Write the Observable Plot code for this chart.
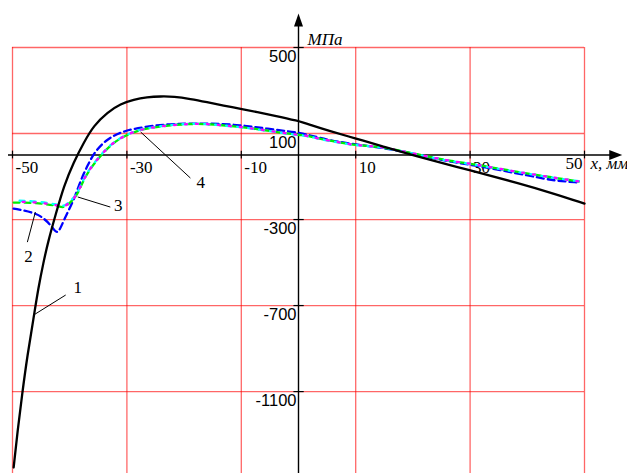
<!DOCTYPE html>
<html><head><meta charset="utf-8">
<script src="https://cdn.jsdelivr.net/npm/d3@7"></script>
<script src="https://cdn.jsdelivr.net/npm/@observablehq/plot@0.6"></script>
<style>body{margin:0;background:#fff}</style>
</head><body><div id="chart"></div>
<script>
// grid / ticks
const gridX = [-50, -30, -10, 10, 30, 50];
const gridY = [500, 100, -300, -700, -1100];
const xTickLabels = ["-50", "-30", "-10", "10", "30", "50"];
const yTickLabels = ["500", "100", "-300", "-700", "-1100"];

// curve 1 (black)
const blackX = [-49.8,-49.1,-48.3,-47.4,-46.3,-45.5,-44.6,-43.7,-42.5,-41.0,-39.3,-37.5,-35.8,-33.4,-31.1,-28.8,-26.5,-24.1,-21.8,-18.9,-16.0,-13.1,-10.1,-7.2,-4.3,-0.2,2.1,5.1,10.0,14.3,20.1,30.1,38.8,44.6,50.0];
const blackY = [-1453,-1281,-1109,-932,-756,-621,-500,-395,-281,-142,-33,60,137,199,238,258,269,273,272,261,246,230,215,199,184,160,140,114,77,44,-2,-72,-133,-179,-226];

// curve 2 (blue dashed)
const blueX = [-49.8,-46.3,-44.6,-43.0,-42.1,-41.1,-39.3,-38.1,-36.9,-35.5,-33.4,-31.1,-28.8,-25.3,-21.8,-16.0,-10.1,-5.5,-0.2,2.1,5.6,9.1,14.3,20.1,26.0,30.1,41.1,44.6,49.0];
const blueY = [-249,-267,-291,-335,-375,-305,-212,-119,-49,21,75,106,122,137,145,148,140,122,106,91,67,53,35,7,-30,-44,-100,-119,-128];

// curve 3 (green dashed)
const greenX = [-49.8,-46.3,-42.1,-41.1,-39.9,-38.7,-37.5,-36.4,-34.6,-32.3,-30.0,-27.6,-24.1,-19.5,-16.0,-11.3,-6.6,-2.0,1.5,3.3,7.3,10.3,14.3,20.1,26.0,30.1,38.8,44.6,49.0];
const greenY = [-221,-221,-235,-248,-221,-188,-111,-64,-2,60,94,119,134,145,145,134,119,99,91,77,58,44,40,7,-26,-40,-81,-105,-123];

// curve 4 (cyan dashed)
const cyanX = [-49.8,-46.3,-42.1,-41.1,-39.9,-38.7,-37.5,-36.4,-34.6,-32.3,-30.0,-27.6,-24.1,-19.5,-16.0,-11.3,-6.6,-2.0,1.5,3.3,7.3,10.3,14.3,20.1,26.0,30.1,38.8,44.6,49.0];
const cyanY = [-212,-214,-229,-242,-214,-183,-106,-60,1,62,96,121,135,146,145,133,118,98,90,76,57,43,39,6,-27,-41,-82,-106,-122];

// magenta dotted
const magX = [-49.8,-46.3,-42.1,-41.1,-39.9,-38.7,-37.5,-36.4,-34.6,-32.3,-30.0,-27.6,-24.1,-19.5,-16.0,-11.3,-6.6,-2.0,1.5,3.3,7.3,10.3,14.3,20.1,26.0,30.1,38.8,44.6,49.0];
const magY = [-217,-218,-232,-245,-218,-186,-109,-62,0,61,95,120,134,145,145,134,119,99,91,77,58,44,40,7,-26,-40,-81,-105,-123];

// curve labels and leaders
const curveLabels = ["1", "2", "3", "4"];
const labelX = [-38.6, -47.2, -31.5, -17.1];
const labelY = [-614, -474, -233, -130];
const leaderX1 = [-40.7, -47.4, -32.9, -18.9];
const leaderY1 = [-651, -405, -242, -107];
const leaderX2 = [-46.3, -46.0, -38.6, -27.6];
const leaderY2 = [-744, -265, -195, 107];

const pts = (xs, ys) => xs.map((x, i) => ({x, y: ys[i]}));
const grid = gridX.map((x, i) => ({x, label: xTickLabels[i]}));
const gridH = gridY.map((y, i) => ({y, label: yTickLabels[i]}));
const labels = curveLabels.map((t, i) => ({t, x: labelX[i], y: labelY[i], x1: leaderX1[i], y1: leaderY1[i], x2: leaderX2[i], y2: leaderY2[i]}));

const arrowRight = {draw(c) { c.moveTo(0, 0); c.lineTo(-13, -5); c.lineTo(-13, 5); c.closePath(); }};
const arrowUp = {draw(c) { c.moveTo(0, 0); c.lineTo(-4.5, 13); c.lineTo(4.5, 13); c.closePath(); }};

const serif = "'Liberation Serif', 'DejaVu Serif', serif";
const sans = "'Liberation Sans', Arial, sans-serif";
const curve = "basis";

const chart = Plot.plot({
  width: 627,
  height: 473,
  marginLeft: 12,
  marginRight: 43,
  marginTop: 47,
  marginBottom: 0,
  x: {domain: [-50, 50], axis: null},
  y: {domain: [-1481, 500], axis: null},
  style: {background: "white", overflow: "visible"},
  marks: [
    // grid
    Plot.ruleX(grid, {x: "x", y1: -1481, y2: 500, stroke: "red", strokeOpacity: 0.6, strokeWidth: 1.3}),
    Plot.ruleY(gridH, {y: "y", x1: -50, x2: 50, stroke: "red", strokeOpacity: 0.6, strokeWidth: 1.3}),
    // axes
    Plot.ruleY([0], {x1: -50.7, x2: 55, stroke: "black", strokeWidth: 1.4}),
    Plot.ruleX([0], {y1: -1481, y2: 640, stroke: "black", strokeWidth: 1.4}),
    Plot.dot([{x: 56.6, y: 0}], {x: "x", y: "y", symbol: arrowRight, fill: "black", stroke: "none"}),
    Plot.dot([{x: 0, y: 658}], {x: "x", y: "y", symbol: arrowUp, fill: "black", stroke: "none"}),
    Plot.ruleX(grid, {x: "x", y1: -18, y2: 18, stroke: "black", strokeWidth: 1.2}),
    Plot.ruleY(gridH, {y: "y", x1: -0.8, x2: 1.0, stroke: "black", strokeWidth: 1.2}),
    // tick labels
    Plot.text(grid.slice(0, 5), {x: "x", y: 0, text: "label", textAnchor: "start", dx: 3, dy: 13, fontSize: 17, fontFamily: serif, fill: "black"}),
    Plot.text(grid.slice(5), {x: "x", y: 0, text: "label", textAnchor: "end", dx: -2, dy: 9, fontSize: 17, fontFamily: serif, fill: "black"}),
    Plot.text(gridH, {x: 0, y: "y", text: "label", textAnchor: "end", dx: -2, dy: 9.5, fontSize: 16.5, fontFamily: sans, fill: "black"}),
    Plot.text([{x: 50, y: 0, t: "x, мм"}], {x: "x", y: "y", text: "t", textAnchor: "start", dx: 6, dy: 9, fontSize: 17, fontStyle: "italic", fontFamily: serif, fill: "black"}),
    Plot.text([{x: 0, y: 500, t: "МПа"}], {x: "x", y: "y", text: "t", textAnchor: "start", dx: 9, dy: -8, fontSize: 17, fontStyle: "italic", fontFamily: serif, fill: "black"}),
    // curves
    Plot.line(pts(blueX, blueY), {x: "x", y: "y", stroke: "#0000ff", strokeWidth: 2.3, strokeDasharray: "7,4", curve}),
    Plot.line(pts(greenX, greenY), {x: "x", y: "y", stroke: "#00ee00", strokeWidth: 2.3, strokeDasharray: "6,5", curve}),
    Plot.line(pts(cyanX, cyanY), {x: "x", y: "y", stroke: "#00ffff", strokeWidth: 2.3, strokeDasharray: "5,6", strokeDashoffset: 5, curve}),
    Plot.line(pts(magX, magY), {x: "x", y: "y", stroke: "#ff00ff", strokeWidth: 2.3, strokeDasharray: "2,9", strokeDashoffset: 2, curve}),
    Plot.line(pts(blackX, blackY), {x: "x", y: "y", stroke: "black", strokeWidth: 2.3, curve}),
    // leaders and labels
    Plot.link(labels, {x1: "x1", y1: "y1", x2: "x2", y2: "y2", stroke: "black", strokeWidth: 1}),
    Plot.text(labels, {x: "x", y: "y", text: "t", fontSize: 17, fontFamily: serif, fill: "black"})
  ]
});
document.getElementById("chart").appendChild(chart);
</script>
</body></html>
